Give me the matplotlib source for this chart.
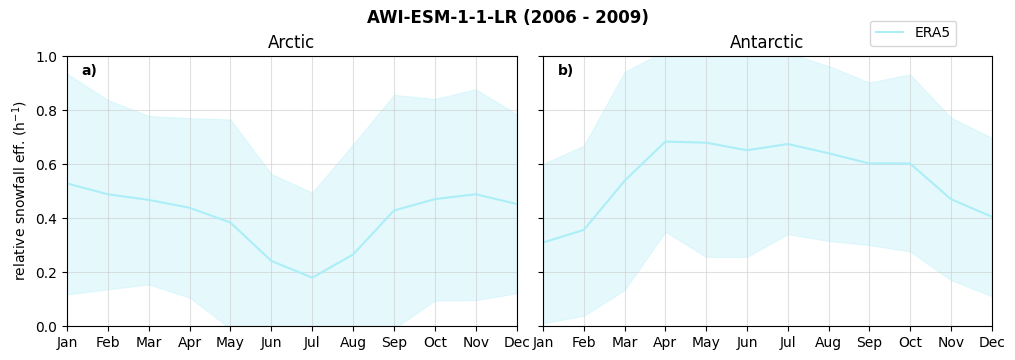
import matplotlib
matplotlib.use("Agg")
import matplotlib.pyplot as plt
import numpy as np

months = ["Jan", "Feb", "Mar", "Apr", "May", "Jun", "Jul", "Aug", "Sep", "Oct", "Nov", "Dec"]

arctic_mean = [0.528, 0.488, 0.467, 0.438, 0.383, 0.241, 0.179, 0.265, 0.428, 0.470, 0.488, 0.452]
arctic_upper = [0.935, 0.837, 0.778, 0.770, 0.765, 0.563, 0.494, 0.673, 0.856, 0.841, 0.877, 0.785]
arctic_lower = [0.117, 0.136, 0.154, 0.105, -0.01, -0.08, -0.12, -0.08, -0.01, 0.094, 0.096, 0.121]

antarctic_mean = [0.309, 0.356, 0.538, 0.683, 0.679, 0.651, 0.674, 0.640, 0.602, 0.602, 0.470, 0.405]
antarctic_upper = [0.600, 0.668, 0.941, 1.02, 1.05, 1.06, 1.012, 0.963, 0.902, 0.932, 0.772, 0.698]
antarctic_lower = [0.010, 0.038, 0.133, 0.349, 0.256, 0.256, 0.340, 0.315, 0.300, 0.276, 0.170, 0.111]

line_color = "#acEEF8"

fig = plt.figure(figsize=(10.15, 3.6), dpi=100)
ax1 = fig.add_axes([0.066, 0.0944, 0.443, 0.75])
ax2 = fig.add_axes([0.535, 0.0944, 0.442, 0.75], sharey=ax1)

x = np.arange(len(months))
panels = [
    (ax1, arctic_mean, arctic_lower, arctic_upper, "Arctic", "a)"),
    (ax2, antarctic_mean, antarctic_lower, antarctic_upper, "Antarctic", "b)"),
]
for ax, m, lo, up, title, lab in panels:
    ax.fill_between(x, lo, up, color=line_color, alpha=0.3, linewidth=0.8)
    ax.plot(x, m, color=line_color, linewidth=1.5, label="ERA5")
    ax.set_xlim(0, 11)
    ax.set_ylim(0, 1)
    ax.set_xticks(x)
    ax.set_xticklabels(months)
    ax.grid(True, color="#cccccc", alpha=0.6, linewidth=0.8)
    ax.set_title(title, fontsize=12)
    ax.text(0.033, 0.97, lab, transform=ax.transAxes, fontweight="bold",
            fontsize=10, va="top", ha="left")

ax1.set_ylabel("relative snowfall eff. (h$^{-1}$)")
plt.setp(ax2.get_yticklabels(), visible=False)

handles, labels = ax1.get_legend_handles_labels()
fig.legend(handles, labels, loc="upper right", bbox_to_anchor=(0.949, 0.962), fontsize=10)
fig.suptitle("AWI-ESM-1-1-LR (2006 - 2009)", fontweight="bold", fontsize=12, y=0.975)

fig.savefig("out.png", dpi=100)
